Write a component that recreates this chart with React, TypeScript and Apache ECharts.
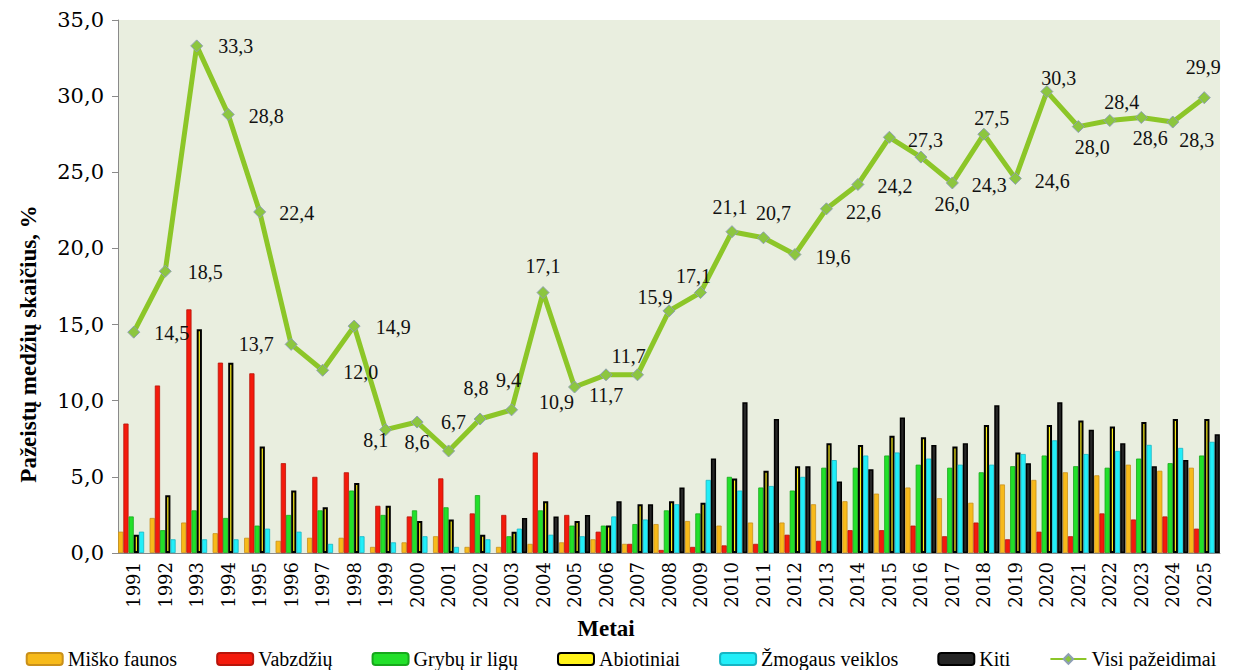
import React, { useEffect, useRef } from "react";
import * as echarts from "echarts";

const years = [
  "1991", "1992", "1993", "1994", "1995", "1996", "1997", "1998", "1999", "2000",
  "2001", "2002", "2003", "2004", "2005", "2006", "2007", "2008", "2009", "2010",
  "2011", "2012", "2013", "2014", "2015", "2016", "2017", "2018", "2019", "2020",
  "2021", "2022", "2023", "2024", "2025",
];

const miskoFaunos = [1.4, 2.3, 2.0, 1.3, 1.0, 0.8, 1.0, 1.0, 0.4, 0.7, 1.1, 0.4, 0.4, 0.6, 0.7, 0.9, 0.6, 1.9, 2.1, 1.8, 2.0, 2.0, 3.2, 3.4, 3.9, 4.3, 3.6, 3.3, 4.5, 4.8, 5.3, 5.1, 5.8, 5.4, 5.6];
const vabzdziu = [8.5, 11.0, 16.0, 12.5, 11.8, 5.9, 5.0, 5.3, 3.1, 2.4, 4.9, 2.6, 2.5, 6.6, 2.5, 1.4, 0.6, 0.2, 0.4, 0.5, 0.6, 1.2, 0.8, 1.5, 1.5, 1.8, 1.1, 2.0, 0.9, 1.4, 1.1, 2.6, 2.2, 2.4, 1.6];
const grybuIrLigu = [2.4, 1.5, 2.8, 2.3, 1.8, 2.5, 2.8, 4.1, 2.5, 2.8, 3.0, 3.8, 1.1, 2.8, 1.8, 1.8, 1.9, 2.8, 2.6, 5.0, 4.3, 4.1, 5.6, 5.6, 6.4, 5.8, 5.6, 5.3, 5.7, 6.4, 5.7, 5.6, 6.2, 5.9, 6.4];
const abiotiniai = [1.2, 3.8, 14.7, 12.5, 7.0, 4.1, 3.0, 4.6, 3.1, 2.1, 2.2, 1.2, 1.4, 3.4, 2.1, 1.8, 3.2, 3.4, 3.3, 4.9, 5.4, 5.7, 7.2, 7.1, 7.7, 7.6, 7.0, 8.4, 6.6, 8.4, 8.7, 8.3, 8.6, 8.8, 8.8];
const zmogausVeiklos = [1.4, 0.9, 0.9, 0.9, 1.6, 1.4, 0.6, 1.1, 0.7, 1.1, 0.4, 0.9, 1.6, 1.2, 1.1, 2.4, 2.2, 3.2, 4.8, 4.1, 4.4, 5.0, 6.1, 6.4, 6.6, 6.2, 5.8, 5.8, 6.5, 7.4, 6.5, 6.7, 7.1, 6.9, 7.3];
const kiti = [null, null, null, null, null, null, null, null, null, null, null, null, 2.3, 2.4, 2.5, 3.4, 3.2, 4.3, 6.2, 9.9, 8.8, 5.7, 4.7, 5.5, 8.9, 7.1, 7.2, 9.7, 5.9, 9.9, 8.1, 7.2, 5.7, 6.1, 7.8];
const visiPazeidimai = [14.5, 18.5, 33.3, 28.8, 22.4, 13.7, 12.0, 14.9, 8.1, 8.6, 6.7, 8.8, 9.4, 17.1, 10.9, 11.7, 11.7, 15.9, 17.1, 21.1, 20.7, 19.6, 22.6, 24.2, 27.3, 26.0, 24.3, 27.5, 24.6, 30.3, 28.0, 28.4, 28.6, 28.3, 29.9];

// label placement (centre offset from point), styling only
const labelOffsets = [
  [38, 1], [40, 1], [39, 0], [38, 2], [37, 1], [-35, 0], [38, 2], [39, 1], [-10, 10], [0, 20],
  [5, -29], [-4, -31], [-3, -30], [0, -27], [-18, 15], [0, 20], [-9, -19], [-14, -14], [-7, -17], [-2, -25],
  [10, -25], [38, 2], [37, 3], [37, 2], [36, 3], [31, 47], [37, 2], [8, -16], [37, 3], [12, -14],
  [14, 20], [12, -19], [9, 21], [24, 18], [-1, -31],
];

const fmt = (v: number) => v.toFixed(1).replace(".", ",");
const F_AXIS = "DejaVu Serif";
const F_TEXT = "Liberation Serif";

export default function App() {
  const ref = useRef<HTMLDivElement>(null);
  useEffect(() => {
    document.body.style.margin = "0";
    const chart = echarts.init(ref.current!, null, { renderer: "svg" });
    const bar = (name: string, data: any[], color: string, border: string, bw: number) => ({
      name,
      type: "bar",
      data,
      barGap: "0%",
      barCategoryGap: "1%",
      itemStyle: { color, borderColor: border, borderWidth: bw },
      emphasis: { disabled: true },
    });
    chart.setOption({
      animation: false,
      backgroundColor: "#ffffff",
      grid: {
        left: 118, right: 22, top: 20, bottom: 117,
        show: true, backgroundColor: "#E9EEDF", borderWidth: 0,
      },
      legend: {
        top: 644,
        left: "center",
        itemWidth: 36,
        itemHeight: 12,
        itemGap: 39,
        textStyle: { fontFamily: F_TEXT, fontSize: 20, color: "#000", lineHeight: 20 },
        data: ["Miško faunos", "Vabzdžių", "Grybų ir ligų", "Abiotiniai", "Žmogaus veiklos", "Kiti", "Visi pažeidimai"],
      },
      xAxis: {
        type: "category",
        data: years,
        axisLine: { lineStyle: { color: "#8a8a8a", width: 1 } },
        axisTick: { length: 6, lineStyle: { color: "#8a8a8a" } },
        axisLabel: { rotate: 90, fontFamily: F_AXIS, fontSize: 18, color: "#000", margin: 9 },
      },
      yAxis: {
        type: "value",
        min: 0,
        max: 35,
        interval: 5,
        axisLine: { show: true, lineStyle: { color: "#8a8a8a", width: 1 } },
        axisTick: { show: true, length: 6, lineStyle: { color: "#8a8a8a" } },
        splitLine: { show: false },
        axisLabel: { formatter: (v: number) => fmt(v), fontFamily: F_AXIS, fontSize: 21, color: "#000", margin: 14 },
      },
      graphic: [
        {
          type: "text",
          x: 28,
          y: 344,
          rotation: Math.PI / 2,
          style: {
            text: "Pažeistų medžių skaičius, %",
            fontFamily: F_TEXT, fontSize: 23, fontWeight: "bold",
            fill: "#000", align: "center", verticalAlign: "middle",
          },
        },
        {
          type: "text",
          x: 606,
          y: 628,
          style: {
            text: "Metai",
            fontFamily: F_TEXT, fontSize: 23, fontWeight: "bold",
            fill: "#000", align: "center", verticalAlign: "middle",
          },
        },
      ],
      series: [
        bar("Miško faunos", miskoFaunos, "#F7BA1A", "#C9901A", 0.8),
        bar("Vabzdžių", vabzdziu, "#F41A0C", "#B8140A", 0.8),
        bar("Grybų ir ligų", grybuIrLigu, "#22E02A", "#17A81C", 0.8),
        bar("Abiotiniai", abiotiniai, "#FFF21A", "#000000", 2),
        bar("Žmogaus veiklos", zmogausVeiklos, "#22EEF8", "#16B5C4", 0.8),
        bar("Kiti", kiti, "#262626", "#000000", 1.5),
        {
          name: "Visi pažeidimai",
          type: "line",
          z: 5,
          data: visiPazeidimai.map((v, i) => ({
            value: v,
            label: { position: "inside", offset: labelOffsets[i] },
          })),
          symbol: "diamond",
          symbolSize: 12,
          lineStyle: { color: "#8CC628", width: 5 },
          itemStyle: { color: "#8CC63F", borderColor: "#8E9FB4", borderWidth: 1 },
          label: {
            show: true,
            formatter: (p: any) => fmt(p.value),
            fontFamily: F_TEXT,
            fontSize: 20,
            color: "#111",
          },
          emphasis: { disabled: true },
        },
      ],
    });
    return () => chart.dispose();
  }, []);
  return <div ref={ref} style={{ width: 1242, height: 670 }} />;
}
